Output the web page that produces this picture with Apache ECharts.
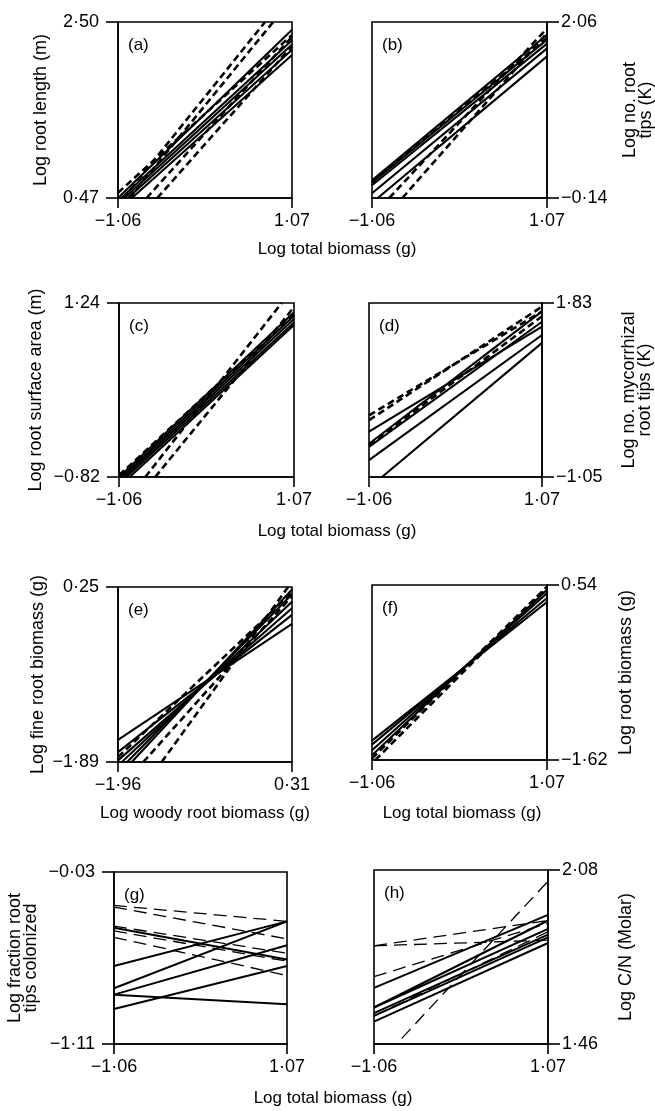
<!DOCTYPE html>
<html><head><meta charset="utf-8">
<script src="https://cdn.jsdelivr.net/npm/echarts@6/dist/echarts.min.js"></script>
<style>html,body{margin:0;padding:0;background:#fff}#c{width:655px;height:1111px}</style>
</head><body><div id="c"></div>
<script>
// ---------- DATA (each line: [x0, y0, x1, y1]) ----------
const totalTicks = [-1.06, 1.07];
const woodyTicks = [-1.96, 0.31];

const aYTicks = [0.47, 2.50];
const aSolid = [[-1.06,0.47,1.07,2.41],[-1.02,0.47,1.07,2.29],[-0.98,0.47,1.07,2.24],[-0.94,0.47,1.07,2.18],[-0.89,0.47,1.07,2.12]];
const aDashed = [[-0.99,0.47,0.74,2.50],[-0.92,0.47,0.84,2.50],[-0.71,0.47,1.07,2.33],[-0.58,0.47,1.07,2.22],[-1.06,0.53,1.07,2.35]];

const bYTicks = [-0.14, 2.06];
const bSolid = [[-1.06,0.08,1.07,1.90],[-1.06,0.05,1.07,1.84],[-1.06,0.02,1.07,1.79],[-1.06,-0.08,1.07,1.73],[-0.99,-0.14,1.07,1.63]];
const bDashed = [[-0.85,-0.14,1.07,1.98],[-0.69,-0.14,1.07,1.92],[-1.06,0.06,1.07,1.86]];

const cYTicks = [-0.82, 1.24];
const cSolid = [[-1.06,-0.82,1.07,1.13],[-1.03,-0.82,1.07,1.09],[-1.00,-0.82,1.07,1.05],[-0.97,-0.82,1.07,1.01],[-0.93,-0.82,1.07,0.98]];
const cDashed = [[-0.74,-0.82,0.92,1.24],[-0.62,-0.82,1.07,1.19],[-1.06,-0.80,1.07,1.11]];

const dYTicks = [-1.05, 1.83];
const dSolid = [[-1.06,-0.30,1.07,1.44],[-1.06,-0.50,1.07,1.69],[-1.06,-0.55,1.07,1.52],[-1.06,-0.77,1.07,1.30],[-0.90,-1.05,1.07,1.17]];
const dDashed = [[-1.06,-0.03,1.07,1.69],[-1.06,-0.11,1.07,1.77],[-1.06,-0.52,1.07,1.61]];

const eYTicks = [-1.89, 0.25];
const eSolid = [[-1.96,-1.62,0.31,-0.20],[-1.96,-1.77,0.31,-0.09],[-1.96,-1.87,0.31,-0.01],[-1.91,-1.89,0.31,0.07],[-1.84,-1.89,0.31,0.16],[-1.78,-1.89,0.31,0.22]];
const eDashed = [[-1.39,-1.89,0.26,0.25],[-1.96,-1.83,0.31,0.18],[-1.63,-1.89,0.31,0.14]];

const fYTicks = [-1.62, 0.54];
const fSolid = [[-1.06,-1.38,1.07,0.33],[-1.06,-1.43,1.07,0.38],[-1.06,-1.50,1.07,0.44],[-1.06,-1.56,1.07,0.48]];
const fDashed = [[-1.06,-1.60,1.07,0.52],[-1.02,-1.62,1.07,0.50]];

const gYTicks = [-1.11, -0.03];
const gSolid = [[-1.06,-0.38,1.07,-0.58],[-1.06,-0.62,1.07,-0.34],[-1.06,-0.76,1.07,-0.34],[-1.06,-0.80,1.07,-0.49],[-1.06,-0.80,1.07,-0.86],[-1.06,-0.89,1.07,-0.62]];
const gDashed = [[-1.06,-0.24,1.07,-0.34],[-1.06,-0.25,1.07,-0.45],[-1.06,-0.37,1.07,-0.54],[-1.06,-0.40,1.07,-0.59],[-1.06,-0.44,1.07,-0.68]];

const hYTicks = [1.46, 2.08];
const hSolid = [[-1.06,1.66,1.07,1.92],[-1.06,1.59,1.07,1.90],[-1.06,1.59,1.07,1.87],[-1.06,1.57,1.07,1.85],[-1.06,1.56,1.07,1.84],[-1.06,1.54,1.07,1.82]];
const hDashed = [[-0.72,1.48,1.07,2.04],[-1.06,1.81,1.07,1.90],[-1.06,1.81,1.07,1.83],[-1.06,1.70,1.07,1.89],[-1.06,1.56,1.07,1.86]];

// ---------- LAYOUT ----------
const FONT = '"Liberation Sans", Arial, Helvetica, sans-serif';
const INK = '#000';
function fmt(v){ return (+v).toFixed(2).replace('.', '\u00B7').replace('-', '\u2212'); }

const panels = [
  {tag:'(a)', box:[118,22,174,176], side:'left',  xT:totalTicks, yT:aYTicks, solid:aSolid, dashed:aDashed, style:'short', yName:'Log root length (m)', yGap:69},
  {tag:'(b)', box:[372,22,175,176], side:'right', xT:totalTicks, yT:bYTicks, solid:bSolid, dashed:bDashed, style:'short', yName:'Log no. root\ntips (K)', yGap:75},
  {tag:'(c)', box:[119,303,175,174], side:'left', xT:totalTicks, yT:cYTicks, solid:cSolid, dashed:cDashed, style:'short', yName:'Log root surface area (m)', yGap:75},
  {tag:'(d)', box:[369,303,173,174], side:'right', xT:totalTicks, yT:dYTicks, solid:dSolid, dashed:dDashed, style:'short', yName:'Log no. mycorrhizal\nroot tips (K)', yGap:79},
  {tag:'(e)', box:[118,587,174,175], side:'left', xT:woodyTicks, yT:eYTicks, solid:eSolid, dashed:eDashed, style:'short', yName:'Log fine root biomass (g)', yGap:72},
  {tag:'(f)', box:[372,585,175,175], side:'right', xT:totalTicks, yT:fYTicks, solid:fSolid, dashed:fDashed, style:'short', yName:'Log root biomass (g)', yGap:71},
  {tag:'(g)', box:[114,872,173,172], side:'left', xT:totalTicks, yT:gYTicks, solid:gSolid, dashed:gDashed, style:'long', yName:'Log fraction root\ntips colonized', yGap:75},
  {tag:'(h)', box:[374,870,174,174], side:'right', xT:totalTicks, yT:hYTicks, solid:hSolid, dashed:hDashed, style:'long', yName:'Log C/N (Molar)', yGap:70}
];

const grid = [], xAxis = [], yAxis = [], series = [], graphic = [];
panels.forEach((p, i) => {
  const [l, t, w, h] = p.box;
  grid.push({left:l, top:t, width:w, height:h, show:true, borderColor:INK, borderWidth:1.6, backgroundColor:'transparent', containLabel:false, outerBoundsMode:'none'});
  xAxis.push({
    gridIndex:i, type:'value', min:p.xT[0], max:p.xT[1], position:'bottom',
    axisLine:{show:true, onZero:false, lineStyle:{color:INK, width:1.6}},
    axisTick:{show:true, customValues:p.xT, length:10, lineStyle:{color:INK, width:1.6}},
    axisLabel:{customValues:p.xT, formatter:fmt, margin:14, fontSize:18, color:'#000', fontFamily:FONT},
    splitLine:{show:false}
  });
  yAxis.push({
    gridIndex:i, type:'value', min:p.yT[0], max:p.yT[1], position:p.side,
    axisLine:{show:true, onZero:false, lineStyle:{color:INK, width:1.6}},
    axisTick:{show:true, customValues:p.yT, length:12, lineStyle:{color:INK, width:1.6}},
    axisLabel:{customValues:p.yT, formatter:fmt, margin:p.side==='left'?19:14, fontSize:18, color:'#000', fontFamily:FONT},
    splitLine:{show:false},
    name:p.yName, nameLocation:'middle', nameRotate:90, nameGap:p.yGap,
    nameTextStyle:{fontSize:18, color:'#000', fontFamily:FONT, lineHeight:16}
  });
  const dashType = p.style === 'short' ? [7,4] : [13,7];
  const dashW = p.style === 'short' ? 2.6 : 1.3;
  p.solid.forEach(s => series.push({
    type:'line', xAxisIndex:i, yAxisIndex:i, data:[[s[0],s[1]],[s[2],s[3]]],
    showSymbol:false, symbol:'none', silent:true, animation:false, clip:true,
    lineStyle:{color:INK, width:p.style === 'short' ? 2.1 : 2, type:'solid'}
  }));
  p.dashed.forEach(s => series.push({
    type:'line', xAxisIndex:i, yAxisIndex:i, data:[[s[0],s[1]],[s[2],s[3]]],
    showSymbol:false, symbol:'none', silent:true, animation:false, clip:true,
    lineStyle:{color:INK, width:dashW, type:dashType}
  }));
  graphic.push({type:'text', x:l+10, y:t+23, style:{text:p.tag, fontSize:17, fontFamily:FONT, fill:'#000', align:'left', verticalAlign:'middle'}});
});

const xNames = [
  {text:'Log total biomass (g)', x:337, y:249},
  {text:'Log total biomass (g)', x:337, y:531},
  {text:'Log woody root biomass (g)', x:205, y:813},
  {text:'Log total biomass (g)', x:462, y:813},
  {text:'Log total biomass (g)', x:333, y:1098}
];
xNames.forEach(n => graphic.push({type:'text', x:n.x, y:n.y, style:{text:n.text, fontSize:17, fontFamily:FONT, fill:'#000', align:'center', verticalAlign:'middle'}}));

const chart = echarts.init(document.getElementById('c'), null, {renderer:'canvas'});
chart.setOption({animation:false, backgroundColor:'#fff', grid, xAxis, yAxis, series, graphic});
</script></body></html>
